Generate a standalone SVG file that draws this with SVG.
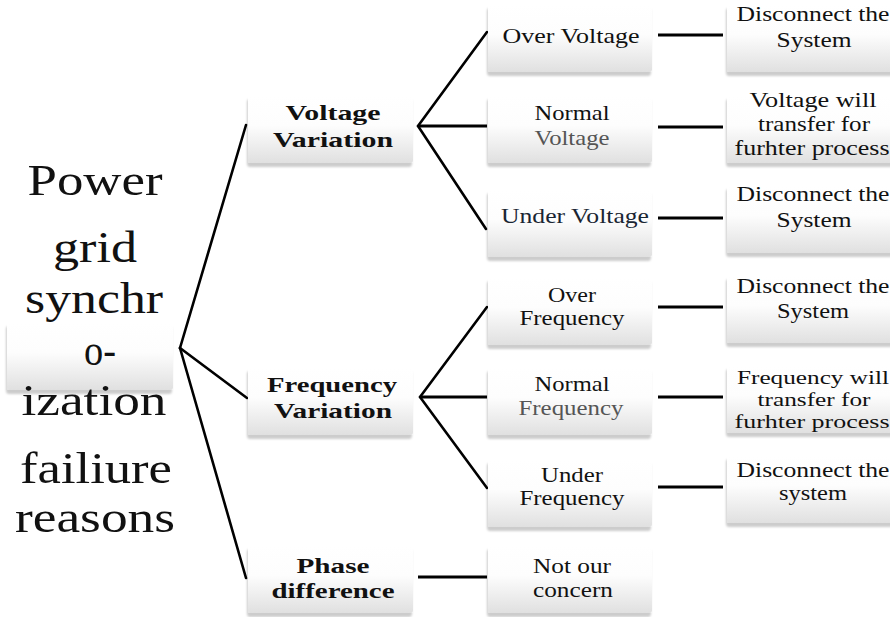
<svg xmlns="http://www.w3.org/2000/svg" width="890" height="617" viewBox="0 0 890 617">
<style>
.bg{fill:#ffffff}
.box{fill:url(#g);filter:url(#sh)}
text{font-family:"Liberation Serif","Times New Roman",serif;text-anchor:middle;fill:#111}
.root{font-size:44px}
.l2{font-size:22px;font-weight:bold}
.l3{font-size:21px}
.sm{font-size:19.5px}
.gry{fill:#555}
.dk{fill:#1a2633}
.ln{stroke:#000;stroke-width:2.6;fill:none;stroke-linecap:round}
.lt{stroke:#000;stroke-width:3.2;fill:none}
</style>
<defs>
<linearGradient id="g" x1="0" y1="0" x2="0" y2="1">
<stop offset="0" stop-color="#ffffff"/>
<stop offset="0.45" stop-color="#fdfdfd"/>
<stop offset="1" stop-color="#e0e0e0"/>
</linearGradient>
<filter id="sh" x="-10%" y="-10%" width="120%" height="130%">
<feGaussianBlur in="SourceAlpha" stdDeviation="1.2"/>
<feOffset dx="-1" dy="3.5" result="b"/>
<feComponentTransfer><feFuncA type="linear" slope="0.2"/></feComponentTransfer>
<feMerge><feMergeNode/><feMergeNode in="SourceGraphic"/></feMerge>
</filter>
</defs>
<rect class="bg" x="0" y="0" width="890" height="617"/>

<g id="connectors">
<line class="ln" x1="180" y1="348" x2="246" y2="125"/>
<line class="ln" x1="180" y1="348" x2="247" y2="398"/>
<line class="ln" x1="180" y1="348" x2="246" y2="578"/>
<line class="ln" x1="418" y1="126" x2="487" y2="32"/>
<line class="lt" x1="418" y1="126" x2="487" y2="126"/>
<line class="ln" x1="418" y1="126" x2="486" y2="229"/>
<line class="ln" x1="420" y1="397" x2="487" y2="307"/>
<line class="lt" x1="420" y1="397" x2="487" y2="397"/>
<line class="ln" x1="420" y1="397" x2="487" y2="488"/>
<line class="lt" x1="418" y1="577" x2="487" y2="577"/>
<line class="lt" x1="658" y1="35" x2="723" y2="35"/>
<line class="lt" x1="658" y1="127" x2="723" y2="127"/>
<line class="lt" x1="658" y1="218" x2="723" y2="218"/>
<line class="lt" x1="658" y1="307" x2="723" y2="307"/>
<line class="lt" x1="658" y1="397" x2="723" y2="397"/>
<line class="lt" x1="658" y1="487" x2="723" y2="487"/>
</g>

<g id="root">
<rect class="box" x="7" y="322" width="166" height="68" rx="3"/>
<text class="root" x="95" y="195" textLength="135" lengthAdjust="spacingAndGlyphs">Power</text>
<text class="root" x="95" y="262" textLength="84" lengthAdjust="spacingAndGlyphs">grid</text>
<text class="root" x="94" y="313" textLength="138" lengthAdjust="spacingAndGlyphs">synchr</text>
<text class="root" x="100" y="365" textLength="32" lengthAdjust="spacingAndGlyphs">o-</text>
<text class="root" x="94" y="415" textLength="145" lengthAdjust="spacingAndGlyphs">ization</text>
<text class="root" x="96" y="483" textLength="152" lengthAdjust="spacingAndGlyphs">failiure</text>
<text class="root" x="95" y="532" textLength="160" lengthAdjust="spacingAndGlyphs">reasons</text>
</g>

<g id="voltage-variation">
<rect class="box" x="248" y="95" width="165" height="68" rx="3"/>
<text class="l2" x="333" y="120" textLength="95" lengthAdjust="spacingAndGlyphs">Voltage</text>
<text class="l2" x="333" y="147" textLength="120" lengthAdjust="spacingAndGlyphs">Variation</text>
</g>
<g id="frequency-variation">
<rect class="box" x="248" y="367" width="165" height="68" rx="3"/>
<text class="l2" x="332" y="392" textLength="130" lengthAdjust="spacingAndGlyphs">Frequency</text>
<text class="l2" x="333" y="418" textLength="118" lengthAdjust="spacingAndGlyphs">Variation</text>
</g>
<g id="phase-difference">
<rect class="box" x="248" y="545" width="165" height="68" rx="3"/>
<text class="l2" x="333" y="573" textLength="73" lengthAdjust="spacingAndGlyphs">Phase</text>
<text class="l2" x="333" y="598" textLength="123" lengthAdjust="spacingAndGlyphs">difference</text>
</g>

<g id="over-voltage">
<rect class="box" x="488" y="4" width="164" height="68" rx="3"/>
<text class="l3" x="571" y="43" textLength="137" lengthAdjust="spacingAndGlyphs">Over Voltage</text>
</g>
<g id="normal-voltage">
<rect class="box" x="488" y="95" width="164" height="68" rx="3"/>
<text class="l3" x="572" y="120" textLength="75" lengthAdjust="spacingAndGlyphs">Normal</text>
<text class="l3 gry" x="572" y="145" textLength="75" lengthAdjust="spacingAndGlyphs">Voltage</text>
</g>
<g id="under-voltage">
<rect class="box" x="488" y="189" width="164" height="68" rx="3"/>
<text class="l3 dk" x="575" y="223" textLength="148" lengthAdjust="spacingAndGlyphs">Under Voltage</text>
</g>
<g id="over-frequency">
<rect class="box" x="488" y="277" width="164" height="68" rx="3"/>
<text class="l3" x="572" y="302" textLength="48" lengthAdjust="spacingAndGlyphs">Over</text>
<text class="l3" x="572" y="325" textLength="105" lengthAdjust="spacingAndGlyphs">Frequency</text>
</g>
<g id="normal-frequency">
<rect class="box" x="488" y="367" width="164" height="68" rx="3"/>
<text class="l3" x="572" y="391" textLength="75" lengthAdjust="spacingAndGlyphs">Normal</text>
<text class="l3 gry" x="571" y="415" textLength="105" lengthAdjust="spacingAndGlyphs">Frequency</text>
</g>
<g id="under-frequency">
<rect class="box" x="488" y="459" width="164" height="68" rx="3"/>
<text class="l3" x="572" y="482" textLength="62" lengthAdjust="spacingAndGlyphs">Under</text>
<text class="l3" x="572" y="505" textLength="105" lengthAdjust="spacingAndGlyphs">Frequency</text>
</g>
<g id="not-our-concern">
<rect class="box" x="488" y="545" width="164" height="68" rx="3"/>
<text class="l3" x="572" y="573" textLength="78" lengthAdjust="spacingAndGlyphs">Not our</text>
<text class="l3" x="573" y="597" textLength="80" lengthAdjust="spacingAndGlyphs">concern</text>
</g>

<g id="disconnect-1">
<rect class="box" x="727" y="4" width="170" height="68" rx="3"/>
<text class="l3" x="813" y="21" textLength="153" lengthAdjust="spacingAndGlyphs">Disconnect the</text>
<text class="l3" x="814" y="47" textLength="75" lengthAdjust="spacingAndGlyphs">System</text>
</g>
<g id="voltage-transfer">
<rect class="box" x="727" y="95" width="170" height="68" rx="3"/>
<text class="l3" x="813" y="107" textLength="127" lengthAdjust="spacingAndGlyphs">Voltage will</text>
<text class="l3" x="814" y="131" textLength="112" lengthAdjust="spacingAndGlyphs">transfer for</text>
<text class="l3" x="812" y="155" textLength="155" lengthAdjust="spacingAndGlyphs">furhter process</text>
</g>
<g id="disconnect-2">
<rect class="box" x="727" y="185" width="170" height="68" rx="3"/>
<text class="l3" x="813" y="201" textLength="153" lengthAdjust="spacingAndGlyphs">Disconnect the</text>
<text class="l3" x="814" y="227" textLength="75" lengthAdjust="spacingAndGlyphs">System</text>
</g>
<g id="disconnect-3">
<rect class="box" x="727" y="275" width="170" height="68" rx="3"/>
<text class="l3" x="813" y="293" textLength="153" lengthAdjust="spacingAndGlyphs">Disconnect the</text>
<text class="l3" x="813" y="318" textLength="72" lengthAdjust="spacingAndGlyphs">System</text>
</g>
<g id="frequency-transfer">
<rect class="box" x="727" y="365" width="170" height="68" rx="3"/>
<text class="sm" x="813" y="384" textLength="152" lengthAdjust="spacingAndGlyphs">Frequency will</text>
<text class="sm" x="814" y="406" textLength="113" lengthAdjust="spacingAndGlyphs">transfer for</text>
<text class="sm" x="812" y="428" textLength="155" lengthAdjust="spacingAndGlyphs">furhter process</text>
</g>
<g id="disconnect-4">
<rect class="box" x="727" y="455" width="170" height="68" rx="3"/>
<text class="l3" x="813" y="477" textLength="153" lengthAdjust="spacingAndGlyphs">Disconnect the</text>
<text class="l3" x="813" y="500" textLength="68" lengthAdjust="spacingAndGlyphs">system</text>
</g>
</svg>
